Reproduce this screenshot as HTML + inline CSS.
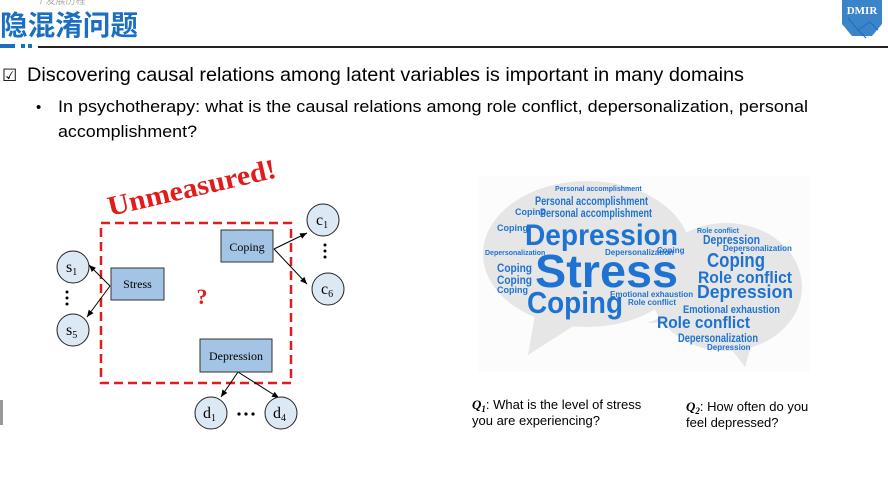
<!DOCTYPE html>
<html><head><meta charset="utf-8"><style>
html,body{margin:0;padding:0;background:#fff;width:888px;height:488px;overflow:hidden}
svg{display:block}
.sans{font-family:"Liberation Sans","Noto Sans CJK SC",sans-serif}
.serif{font-family:"Liberation Serif",serif}
.wc{font-family:"Liberation Sans",sans-serif;font-weight:bold;fill:#1e73d2}
</style></head><body>
<svg width="888" height="488" viewBox="0 0 888 488" xmlns="http://www.w3.org/2000/svg">
<defs>
<marker id="ar" markerWidth="8" markerHeight="8" refX="7" refY="4" orient="auto"><path d="M0,1 L7,4 L0,7 z" fill="#000"/></marker>
</defs>
<g>
<text x="40" y="4" class="sans" font-size="10" fill="#aaa">/ 发展历程</text>
<text x="0" y="35" class="sans" font-size="28" font-weight="bold" fill="#1a6fc0" textLength="138" lengthAdjust="spacingAndGlyphs">隐混淆问题</text>
<rect x="0" y="44" width="15" height="4" fill="#1a6fc0"/>
<rect x="21" y="44" width="4" height="4" fill="#1a6fc0"/>
<rect x="28" y="44" width="4" height="4" fill="#1a6fc0"/>
<rect x="38" y="46" width="850" height="2" fill="#222"/>
<g>
<path d="M842,0 L882,0 L882,24 L872,36 L852,36 L842,24 Z" fill="#1a6fc0" opacity="0.85"/>
<path d="M848,18 L858,30 L870,22 L878,30 M858,30 L866,38" stroke="#1a6fc0" stroke-width="1" fill="none"/>
<text x="862" y="14" class="serif" font-size="11" font-weight="bold" fill="#fff" text-anchor="middle">DMIR</text>
</g>
</g>
<text x="2" y="81" class="sans" font-size="17" fill="#000">☑</text>
<text x="27" y="81" class="sans" font-size="19.5" fill="#000" textLength="717" lengthAdjust="spacingAndGlyphs">Discovering causal relations among latent variables is important in many domains</text>
<text x="36" y="112" class="sans" font-size="15" fill="#000">•</text>
<text x="58" y="112" class="sans" font-size="17" fill="#000" textLength="750" lengthAdjust="spacingAndGlyphs">In psychotherapy:  what is the causal relations among role conflict, depersonalization, personal</text>
<text x="58" y="137" class="sans" font-size="17" fill="#000" textLength="139" lengthAdjust="spacingAndGlyphs">accomplishment?</text>

<g>
<text x="0" y="0" class="serif" font-size="28" font-weight="bold" fill="#e21b1b" transform="translate(110,216) rotate(-13)" textLength="172" lengthAdjust="spacingAndGlyphs">Unmeasured!</text>
<rect x="101" y="223" width="190" height="160" fill="none" stroke="#e21b1b" stroke-width="2.5" stroke-dasharray="9,5"/>
<text x="202" y="304" class="serif" font-size="22" font-weight="bold" fill="#e21b1b" text-anchor="middle">?</text>
<g stroke="#000" stroke-width="1" fill="none" marker-end="url(#ar)">
<line x1="110" y1="286" x2="89" y2="265"/>
<line x1="110" y1="286" x2="87" y2="317"/>
<line x1="274" y1="249" x2="307" y2="233"/>
<line x1="274" y1="249" x2="307" y2="284"/>
<line x1="238" y1="372" x2="221" y2="397"/>
<line x1="238" y1="372" x2="279" y2="398"/>
</g>
<rect x="111" y="268" width="53" height="32" fill="#a3c4e4" stroke="#333"/>
<text x="137.5" y="288" class="serif" font-size="12" text-anchor="middle">Stress</text>
<rect x="221" y="230" width="52" height="32" fill="#a3c4e4" stroke="#333"/>
<text x="247" y="251" class="serif" font-size="12" text-anchor="middle">Coping</text>
<rect x="200" y="339" width="72" height="33" fill="#a3c4e4" stroke="#333"/>
<text x="236" y="360" class="serif" font-size="12" text-anchor="middle">Depression</text>
<g fill="#dde8f5" stroke="#222" stroke-width="1">
<circle cx="73" cy="267" r="16"/>
<circle cx="73" cy="330" r="16"/>
<circle cx="323" cy="220" r="16"/>
<circle cx="328" cy="289" r="16"/>
<circle cx="211" cy="413" r="16"/>
<circle cx="281" cy="413" r="16"/>
</g>
<g class="serif" font-size="16" fill="#000">
<text x="66" y="272">s<tspan font-size="10" dy="3">1</tspan></text>
<text x="66" y="335">s<tspan font-size="10" dy="3">5</tspan></text>
<text x="316" y="225">c<tspan font-size="10" dy="3">1</tspan></text>
<text x="321" y="294">c<tspan font-size="10" dy="3">6</tspan></text>
<text x="203" y="418">d<tspan font-size="10" dy="3">1</tspan></text>
<text x="273" y="418">d<tspan font-size="10" dy="3">4</tspan></text>
</g>
<g fill="#000">
<circle cx="67" cy="292" r="1.5"/><circle cx="67" cy="298" r="1.5"/><circle cx="67" cy="304" r="1.5"/>
<circle cx="325" cy="245" r="1.5"/><circle cx="325" cy="251" r="1.5"/><circle cx="325" cy="257" r="1.5"/>
<circle cx="239" cy="414" r="1.6"/><circle cx="246" cy="414" r="1.6"/><circle cx="253" cy="414" r="1.6"/>
</g>
</g>

<g>
<rect x="478" y="176" width="332" height="196" fill="#fcfcfc"/>
<ellipse cx="587" cy="254" rx="104" ry="73" fill="#e6e6e6"/>
<path d="M535,315 L528,355 L575,325 Z" fill="#e6e6e6"/>
<ellipse cx="726" cy="287" rx="76" ry="64" fill="#e6e6e6"/>
<path d="M728,345 L745,367 L752,343 Z" fill="#e6e6e6"/>
<path d="M660,318 L647,323 L672,322 Z" fill="#e6e6e6"/>
<g lengthAdjust="spacingAndGlyphs">
<text x="525" y="245" class="wc" font-size="30" textLength="153" lengthAdjust="spacingAndGlyphs">Depression</text>
<text x="535" y="287" class="wc" font-size="46" textLength="143" lengthAdjust="spacingAndGlyphs">Stress</text>
<text x="527" y="313" class="wc" font-size="31" textLength="96" lengthAdjust="spacingAndGlyphs">Coping</text>
<text x="535" y="205" class="wc" font-size="12" textLength="113" lengthAdjust="spacingAndGlyphs">Personal accomplishment</text>
<text x="540" y="217" class="wc" font-size="12" textLength="112" lengthAdjust="spacingAndGlyphs">Personal accomplishment</text>
<text x="555" y="191" class="wc" font-size="7">Personal accomplishment</text>
<text x="497" y="272" class="wc" font-size="12" textLength="35" lengthAdjust="spacingAndGlyphs">Coping</text>
<text x="497" y="284" class="wc" font-size="12" textLength="35" lengthAdjust="spacingAndGlyphs">Coping</text>
<text x="497" y="293" class="wc" font-size="9">Coping</text>
<text x="515" y="215" class="wc" font-size="9">Coping</text>
<text x="497" y="231" class="wc" font-size="9">Coping</text>
<text x="485" y="255" class="wc" font-size="7">Depersonalization</text>
<text x="605" y="255" class="wc" font-size="8">Depersonalization</text>
<text x="657" y="253" class="wc" font-size="8">Coping</text>
<text x="610" y="297" class="wc" font-size="8">Emotional exhaustion</text>
<text x="628" y="305" class="wc" font-size="8">Role conflict</text>
<text x="703" y="244" class="wc" font-size="13" textLength="57" lengthAdjust="spacingAndGlyphs">Depression</text>
<text x="723" y="251" class="wc" font-size="8">Depersonalization</text>
<text x="697" y="233" class="wc" font-size="7">Role conflict</text>
<text x="707" y="267" class="wc" font-size="20" textLength="58" lengthAdjust="spacingAndGlyphs">Coping</text>
<text x="698" y="283" class="wc" font-size="17" textLength="94" lengthAdjust="spacingAndGlyphs">Role conflict</text>
<text x="697" y="298" class="wc" font-size="18" textLength="96" lengthAdjust="spacingAndGlyphs">Depression</text>
<text x="683" y="313" class="wc" font-size="11" textLength="97" lengthAdjust="spacingAndGlyphs">Emotional exhaustion</text>
<text x="657" y="328" class="wc" font-size="17" textLength="93" lengthAdjust="spacingAndGlyphs">Role conflict</text>
<text x="678" y="342" class="wc" font-size="12" textLength="80" lengthAdjust="spacingAndGlyphs">Depersonalization</text>
<text x="707" y="350" class="wc" font-size="8">Depression</text>
</g>
</g>

<g class="sans" font-size="13" fill="#000">
<text x="472" y="409"><tspan class="serif" font-weight="bold" font-style="italic">Q<tspan font-size="9" dy="3">1</tspan></tspan><tspan dy="-3">: What is the level of stress</tspan></text>
<text x="472" y="425">you are experiencing?</text>
<text x="686" y="411"><tspan class="serif" font-weight="bold" font-style="italic">Q<tspan font-size="9" dy="3">2</tspan></tspan><tspan dy="-3">: How often do you</tspan></text>
<text x="686" y="427">feel depressed?</text>
</g>
<rect x="0" y="400" width="3" height="25" fill="#999"/>
</svg>
</body></html>
